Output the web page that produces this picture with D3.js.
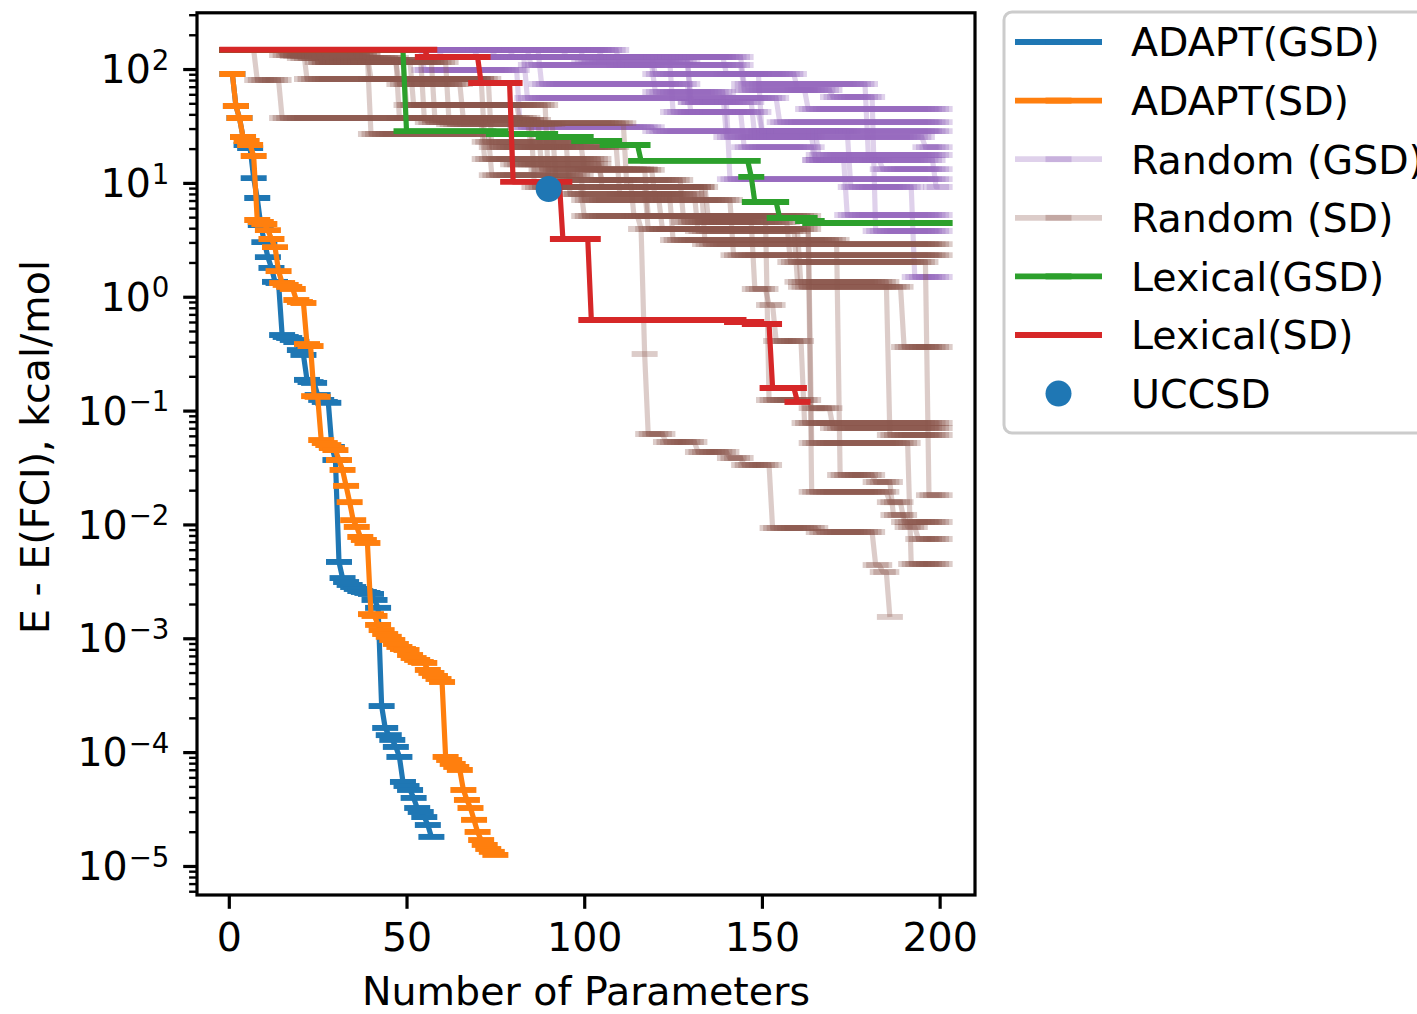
<!DOCTYPE html>
<html>
<head>
<meta charset="utf-8">
<script src="https://cdn.jsdelivr.net/npm/d3@7"></script>
<style>
body { margin: 0; background: #fff; }
</style>
</head>
<body>
<div id="chart"></div>
<script>
// ---- data (energy error in kcal/mol) ----
// ADAPT runs: one value per parameter count, starting at 1
var adaptGSD = [90.4, 47.3, 37.1, 25.3, 21.5, 20.2, 11.0, 7.36, 4.26, 3.02,
  2.23, 1.79, 1.35, 1.32, 0.461, 0.443, 0.434, 0.417, 0.400, 0.340,
  0.308, 0.186, 0.178, 0.175, 0.137, 0.124, 0.119, 0.117, 0.0479, 0.0368,
  0.00468, 0.00338, 0.00312, 0.00294, 0.00282, 0.00271, 0.00260, 0.00255, 0.00250, 0.00245,
  0.00217, 0.00185, 2.54e-4, 1.63e-4, 1.41e-4, 1.28e-4, 1.11e-4, 9.07e-5, 5.47e-5, 5.04e-5,
  4.65e-5, 3.96e-5, 3.23e-5, 2.98e-5, 2.69e-5, 2.29e-5, 1.80e-5];

var adaptSD = [90.4, 47.3, 37.1, 25.3, 23.3, 21.5, 17.2, 4.72, 4.53, 4.35,
  3.85, 3.21, 2.73, 1.68, 1.32, 1.27, 1.22, 1.17, 0.936, 0.899,
  0.881, 0.384, 0.369, 0.134, 0.132, 0.0551, 0.0519, 0.0498, 0.0469, 0.0450,
  0.0368, 0.0301, 0.0218, 0.0157, 0.0109, 0.00950, 0.00776, 0.00730, 0.00687, 0.00163,
  0.00157, 0.00131, 0.00118, 0.00109, 0.00103, 9.66e-4, 8.91e-4, 8.39e-4, 8.05e-4, 7.89e-4,
  7.13e-4, 6.71e-4, 6.45e-4, 6.19e-4, 6.07e-4, 5.27e-4, 4.96e-4, 4.67e-4, 4.39e-4, 4.13e-4,
  9.07e-5, 8.53e-5, 7.87e-5, 7.41e-5, 6.97e-5, 4.65e-5, 3.80e-5, 3.23e-5, 2.54e-5, 1.99e-5,
  1.69e-5, 1.53e-5, 1.41e-5, 1.33e-5, 1.25e-5];

// staircase runs: [parameter count where value changes, value]; value holds until next change
var lexicalGSD = [[1, 146.9], [50, 28.5], [76, 26.9], [90, 25.3], [100, 23.3], [108, 21.5],
  [116, 15.6], [147, 11.3], [148, 6.79], [155, 4.91], [163, 4.62], [165, 4.44]];
var lexicalGSDEnd = 200;

var lexicalSD = [[1, 147.8], [56, 127.5], [71, 75.3], [80, 10.2], [94, 3.21], [102, 0.624],
  [143, 0.600], [148, 0.576], [153, 0.158], [160, 0.119]];
var lexicalSDEnd = 160;

var randomGSD = [
  [[1, 147], [75, 127.5], [140, 90.4], [160, 65.4], [163, 44.5]],
  [[1, 147], [60, 127.5], [84, 55.6], [155, 34.2]],
  [[1, 147], [55, 98.0], [82, 30.9], [120, 28.5]],
  [[1, 147], [85, 108.4], [120, 62.8], [140, 25.3], [196, 20.6]],
  [[1, 147], [95, 127.5], [125, 41.9], [150, 28.5], [166, 17.6]],
  [[1, 147], [80, 127.5], [130, 51.3], [148, 25.3], [165, 15.9], [184, 13.2]],
  [[1, 147], [100, 115.2], [130, 51.3], [141, 10.8]],
  [[1, 147], [88, 73.8], [130, 41.9], [145, 20.6], [165, 15.9], [174, 5.22]],
  [[1, 147], [110, 108.4], [145, 65.4], [170, 56.8], [182, 3.78]],
  [[1, 147], [70, 127.5], [120, 90.4], [150, 28.5], [175, 9.2], [193, 1.49]],
  [[1, 147], [105, 127.5], [145, 73.8], [180, 15.9], [199, 9.2]]
];
var randomGSDEnd = [200, 200, 200, 200, 200, 200, 200, 200, 200, 200, 200];

var randomSD = [
  [[1, 147], [30, 115], [48, 73.8], [66, 35.7], [86, 9.2], [100, 5.12], [116, 3.93], [117, 0.314],
    [118, 0.0623], [123, 0.053], [132, 0.0433], [141, 0.0383], [145, 0.0333], [153, 0.0093],
    [166, 0.00858], [182, 0.0044], [184, 0.00382], [186, 0.00154]],
  [[1, 147], [25, 115], [50, 48.3], [82, 33.5], [112, 9.2], [134, 2.9]],
  [[1, 147], [15, 132.7], [40, 81.7], [72, 22.9], [100, 13.0], [120, 7.07], [142, 2.32]],
  [[1, 147], [30, 120], [55, 37.1], [85, 20.6], [110, 7.98], [132, 3.78], [161, 1.22], [190, 0.362]],
  [[1, 147], [20, 124.9], [48, 37.1], [80, 14.6], [105, 10.6], [128, 4.53], [148, 1.17], [152, 0.846],
    [154, 0.408], [162, 0.0778]],
  [[1, 147], [28, 115], [58, 35.7], [88, 13.2], [118, 5.12], [152, 0.124], [164, 0.105], [170, 0.0703]],
  [[1, 147], [18, 130.1], [40, 26.9], [74, 11.7], [100, 7.07], [122, 3.93], [160, 1.35], [186, 0.061]],
  [[1, 147], [8, 80.1], [15, 37.1], [56, 34.2], [72, 16.2], [105, 9.2], [135, 4.53], [158, 2.02], [197, 0.0181]],
  [[1, 147], [26, 115], [52, 48.3], [90, 9.2], [118, 3.93], [164, 0.0193], [186, 0.0157], [190, 0.0105]],
  [[1, 147], [22, 81.7], [74, 20.6], [96, 7.98], [125, 3.15], [172, 0.0272], [182, 0.0236], [187, 0.0121],
    [191, 0.0095], [194, 0.00745]],
  [[1, 147], [35, 115], [62, 32.9], [92, 10.6], [114, 5.12], [164, 0.0519], [192, 0.00449]]
];
var randomSDEnd = [186, 200, 200, 200, 200, 200, 200, 200, 200, 200, 200];

var uccsd = [[90, 8.83]];

var xTicks = [0, 50, 100, 150, 200];
var yExponents = [-5, -4, -3, -2, -1, 0, 1, 2];

var legendLabels = ["ADAPT(GSD)", "ADAPT(SD)", "Random (GSD)", "Random (SD)", "Lexical(GSD)", "Lexical(SD)", "UCCSD"];

// ---- drawing ----
var C0 = "#1f77b4", C1 = "#ff7f0e", C2 = "#2ca02c", C3 = "#d62728", C4 = "#9467bd", C5 = "#8c564b";
var LW = 5.2, MW = 5.9, MHALF = 13, FS = 39.5;
var width = 1417, height = 1014;
var box = {left: 197, right: 975, top: 12.8, bottom: 895};

var svg = d3.select("#chart").append("svg")
  .attr("width", width)
  .attr("height", height)
  .style("font-family", "DejaVu Sans");

svg.append("rect").attr("width", width).attr("height", height).attr("fill", "#fff");

var x = d3.scaleLinear()
  .domain([-8.95, 209.95])
  .range([box.left, box.right]);

var y = d3.scaleLog()
  .domain([Math.pow(10, -5.255), Math.pow(10, 2.494)])
  .range([box.bottom, box.top]);

var dx = x(1) - x(0);

svg.append("clipPath").attr("id", "clip")
  .append("rect")
  .attr("x", box.left).attr("y", box.top)
  .attr("width", box.right - box.left).attr("height", box.bottom - box.top);

var plot = svg.append("g").attr("clip-path", "url(#clip)");

var line = d3.line().x(function(d){ return x(d[0]); }).y(function(d){ return y(d[1]); });

function drawAdapt(values, color){
  var pts = values.map(function(v, i){ return [i + 1, v]; });
  plot.append("path").datum(pts)
    .attr("d", line)
    .attr("fill", "none")
    .attr("stroke", color)
    .attr("stroke-width", LW)
    .attr("stroke-linejoin", "round");
  plot.append("g").selectAll("line")
    .data(pts)
    .enter().append("line")
    .attr("x1", function(d){ return x(d[0]) - MHALF; })
    .attr("x2", function(d){ return x(d[0]) + MHALF; })
    .attr("y1", function(d){ return y(d[1]); })
    .attr("y2", function(d){ return y(d[1]); })
    .attr("stroke", color)
    .attr("stroke-width", MW);
}

function drawSteps(steps, end, color, alpha){
  var segs = steps.map(function(s, i){
    return {x0: s[0], x1: i < steps.length - 1 ? steps[i + 1][0] - 1 : end, v: s[1]};
  });
  var pts = [];
  segs.forEach(function(s){ pts.push([s.x0, s.v]); pts.push([s.x1, s.v]); });
  var g = plot.append("g");
  g.append("path").datum(pts)
    .attr("d", line)
    .attr("fill", "none")
    .attr("stroke", color)
    .attr("stroke-opacity", alpha)
    .attr("stroke-width", LW)
    .attr("stroke-linejoin", "round");
  // '_' markers at each parameter count of a plateau: overlapping translucent dashes
  segs.forEach(function(s){
    var n = s.x1 - s.x0 + 1;
    var layers = alpha < 1 ? Math.min(n, Math.ceil(2 * MHALF / dx)) : 1;
    var a0 = x(s.x0) - MHALF, b0 = x(s.x1) + MHALF;
    for (var j = 0; j < layers; j++){
      var a = a0 + j * dx, b = b0 - j * dx;
      if (b - a <= 0) break;
      g.append("line")
        .attr("x1", a).attr("x2", b)
        .attr("y1", y(s.v)).attr("y2", y(s.v))
        .attr("stroke", color)
        .attr("stroke-opacity", alpha)
        .attr("stroke-width", MW);
    }
  });
}

drawAdapt(adaptGSD, C0);
drawAdapt(adaptSD, C1);
randomGSD.forEach(function(r, i){ drawSteps(r, randomGSDEnd[i], C4, 0.3); });
randomSD.forEach(function(r, i){ drawSteps(r, randomSDEnd[i], C5, 0.3); });
drawSteps(lexicalGSD, lexicalGSDEnd, C2, 1);
drawSteps(lexicalSD, lexicalSDEnd, C3, 1);

plot.selectAll(".uccsd")
  .data(uccsd)
  .enter().append("circle")
  .attr("class", "uccsd")
  .attr("cx", function(d){ return x(d[0]); })
  .attr("cy", function(d){ return y(d[1]); })
  .attr("r", 13)
  .attr("fill", C0);

// ---- axes ----
var xAxis = svg.append("g")
  .attr("transform", "translate(0," + box.bottom + ")")
  .call(d3.axisBottom(x).tickValues(xTicks).tickSize(13.8).tickPadding(13.8).tickFormat(d3.format("d")));
xAxis.select(".domain").remove();
xAxis.selectAll(".tick line").attr("stroke", "#000").attr("stroke-width", 3.2);
xAxis.selectAll(".tick text")
  .attr("font-family", "DejaVu Sans")
  .attr("font-size", FS)
  .attr("fill", "#000")
  .attr("dy", "0.73em");

var majors = yExponents.map(function(e){ return Math.pow(10, e); });
var minors = [];
d3.range(-6, 3).forEach(function(e){
  [2, 3, 4, 5, 6, 7, 8, 9].forEach(function(k){
    var v = k * Math.pow(10, e);
    if (v >= y.domain()[0] && v <= y.domain()[1]) minors.push(v);
  });
});

var yMinor = svg.append("g")
  .attr("transform", "translate(" + box.left + ",0)")
  .call(d3.axisLeft(y).tickValues(minors).tickSize(7.9).tickFormat(""));
yMinor.select(".domain").remove();
yMinor.selectAll(".tick line").attr("stroke", "#000").attr("stroke-width", 2.4);

var yMajor = svg.append("g")
  .attr("transform", "translate(" + box.left + ",0)")
  .call(d3.axisLeft(y).tickValues(majors).tickSize(13.8).tickFormat(""));
yMajor.select(".domain").remove();
yMajor.selectAll(".tick line").attr("stroke", "#000").attr("stroke-width", 3.2);

var ylab = svg.append("g").selectAll("text")
  .data(yExponents)
  .enter().append("text")
  .attr("x", box.left - 13.8 - 13.8)
  .attr("y", function(e){ return y(Math.pow(10, e)) + 14.2; })
  .attr("text-anchor", "end")
  .attr("font-size", FS)
  .attr("fill", "#000");
ylab.append("tspan").text("10");
ylab.append("tspan")
  .attr("dy", -13.5)
  .attr("dx", 1)
  .attr("font-size", FS * 0.7)
  .text(function(e){ return e < 0 ? "\u2212" + (-e) : String(e); });

svg.append("rect")
  .attr("x", box.left).attr("y", box.top)
  .attr("width", box.right - box.left).attr("height", box.bottom - box.top)
  .attr("fill", "none")
  .attr("stroke", "#000")
  .attr("stroke-width", 3.2);

svg.append("text")
  .attr("x", (box.left + box.right) / 2)
  .attr("y", 1005)
  .attr("text-anchor", "middle")
  .attr("font-size", FS)
  .text("Number of Parameters");

svg.append("text")
  .attr("transform", "translate(49,447) rotate(-90)")
  .attr("text-anchor", "middle")
  .attr("font-size", FS)
  .text("E - E(FCI), kcal/mol");

// ---- legend ----
var legend = svg.append("g");
legend.append("rect")
  .attr("x", 1004).attr("y", 12)
  .attr("width", 460).attr("height", 421)
  .attr("rx", 8)
  .attr("fill", "#fff").attr("fill-opacity", 0.8)
  .attr("stroke", "#cccccc").attr("stroke-width", 3);

var legendStyles = [
  {color: C0, alpha: 1, kind: "line"},
  {color: C1, alpha: 1, kind: "line"},
  {color: C4, alpha: 0.3, kind: "line"},
  {color: C5, alpha: 0.3, kind: "line"},
  {color: C2, alpha: 1, kind: "line"},
  {color: C3, alpha: 1, kind: "line"},
  {color: C0, alpha: 1, kind: "dot"}
];

legendLabels.forEach(function(label, i){
  var st = legendStyles[i];
  var cy = 42 + i * 58.6;
  var item = legend.append("g");
  if (st.kind === "line"){
    item.append("line")
      .attr("x1", 1015).attr("x2", 1102).attr("y1", cy).attr("y2", cy)
      .attr("stroke", st.color).attr("stroke-opacity", st.alpha).attr("stroke-width", LW + 0.6);
    item.append("line")
      .attr("x1", 1058.5 - MHALF).attr("x2", 1058.5 + MHALF).attr("y1", cy).attr("y2", cy)
      .attr("stroke", st.color).attr("stroke-opacity", st.alpha).attr("stroke-width", MW);
  } else {
    item.append("circle").attr("cx", 1058.5).attr("cy", cy).attr("r", 13).attr("fill", st.color);
  }
  item.append("text")
    .attr("x", 1131).attr("y", cy + 14.4)
    .attr("font-size", FS)
    .text(label);
});
</script>
</body>
</html>
